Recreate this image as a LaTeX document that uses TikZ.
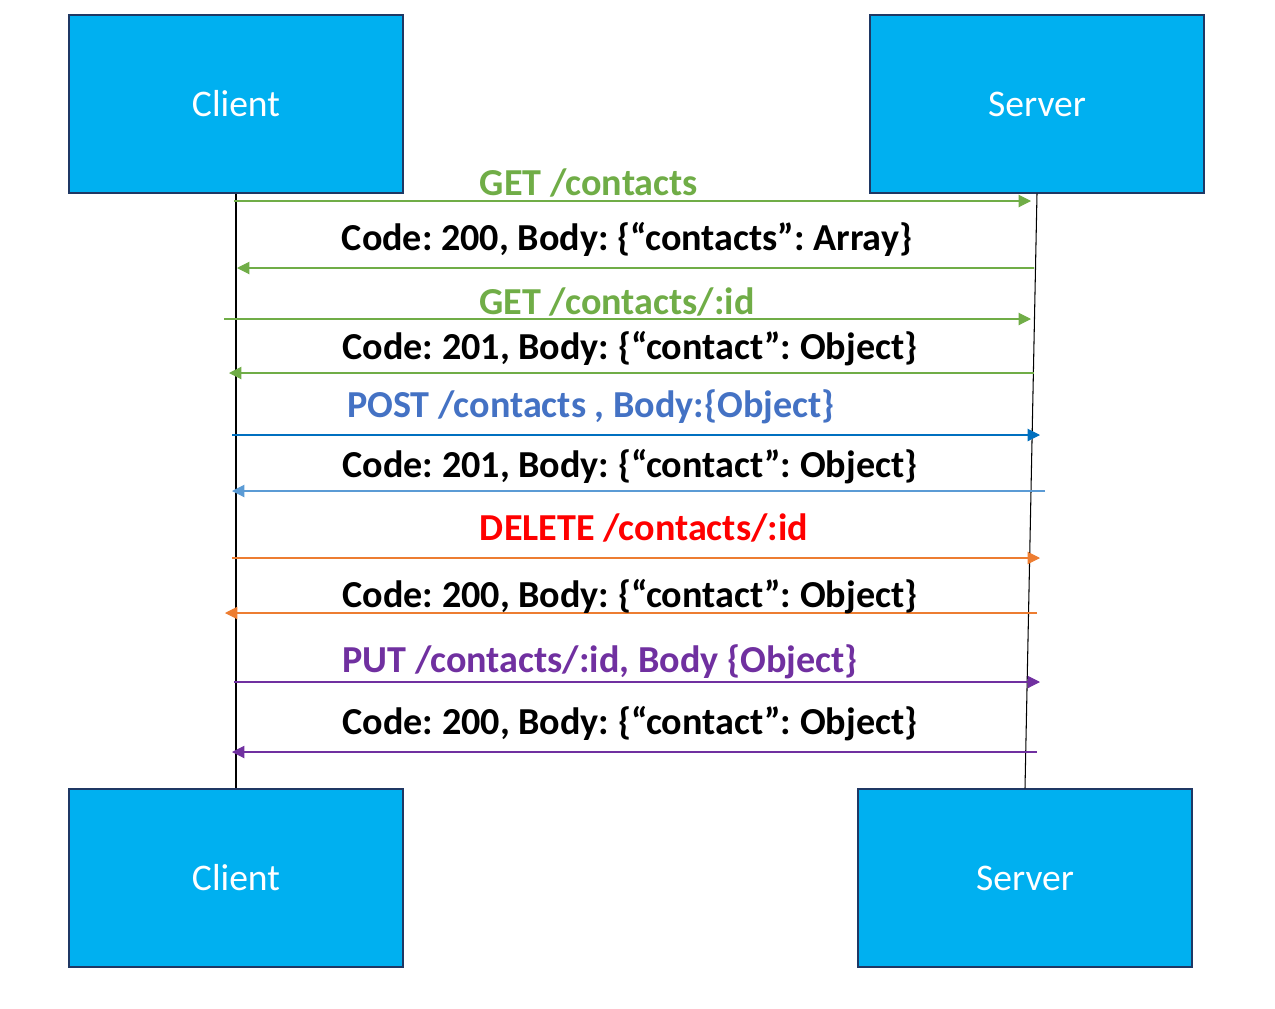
\documentclass[tikz,border=0pt]{standalone}
\usepackage{fontspec}
\setmainfont{Carlito}
\usepackage{xcolor}
\usetikzlibrary{positioning,calc,arrows.meta}

\definecolor{boxfill}{HTML}{00B0F0}
\definecolor{boxline}{HTML}{1F3864}
\definecolor{getgreen}{HTML}{70AD47}
\definecolor{postblue}{HTML}{4472C4}
\definecolor{postline}{HTML}{0070C0}
\definecolor{replyblue}{HTML}{5B9BD5}
\definecolor{delorange}{HTML}{ED7D31}
\definecolor{delred}{HTML}{FF0000}
\definecolor{putpurple}{HTML}{7030A0}

\tikzset{
  party/.style={draw=boxline, line width=1.1pt, fill=boxfill, minimum width=190.5pt, minimum height=100.9pt,
    inner sep=0pt, text=white, font=\fontsize{21.4}{25}\selectfont},
  msg/.style={line width=0.6pt, -{Triangle[length=7pt,width=7pt]}},
  msglabel/.style={font=\fontsize{21.7}{26}\selectfont\bfseries, inner sep=0pt}
}

\begin{document}
\frenchspacing
\begin{tikzpicture}[x=0.02cm, y=-0.02cm]
    \useasboundingbox (0,0) rectangle (1275,1008);

    % Parties
    \node [party] (clienttop) at (236,104) {Client};
    \node [party] (servertop) at (1037,104) {Server};
    \node [party] (clientbot) at (236,878) {Client};
    \node [party] (serverbot) at (1025,878) {Server};

    % Lifelines
    \draw [line width=0.6pt] (clienttop.south) -- (clientbot.north);
    \draw [line width=0.6pt] (servertop.south) -- (serverbot.north);

    % GET /contacts
    \coordinate (get1a) at (234,201);
    \coordinate (get1b) at (1031,201);
    \draw [msg, getgreen] (get1a) -- (get1b);
    \node [msglabel, getgreen] (get1) at (589,183) {GET /contacts};

    \coordinate (res1a) at (1034,268);
    \coordinate (res1b) at (237,268);
    \draw [msg, getgreen] (res1a) -- (res1b);
    \node [msglabel] (res1) at (627,239) {Code: 200, Body: \{“contacts”: Array\}};

    % GET /contacts/:id
    \coordinate (get2a) at (224,319);
    \coordinate (get2b) at (1031,319);
    \draw [msg, getgreen] (get2a) -- (get2b);
    \node [msglabel, getgreen] (get2) at (617,302) {GET /contacts/:id};

    \coordinate (res2a) at (1034,373);
    \coordinate (res2b) at (229,373);
    \draw [msg, getgreen] (res2a) -- (res2b);
    \node [msglabel] (res2) at (630,349) {Code: 201, Body: \{“contact”: Object\}};

    % POST
    \coordinate (posta) at (232,435);
    \coordinate (postb) at (1040,435);
    \draw [msg, postline] (posta) -- (postb);
    \node [msglabel, postblue] (post) at (591,407) {POST /contacts , Body:\{Object\}};

    \coordinate (res3a) at (1045,491);
    \coordinate (res3b) at (232,491);
    \draw [msg, replyblue] (res3a) -- (res3b);
    \node [msglabel] (res3) at (630,467) {Code: 201, Body: \{“contact”: Object\}};

    % DELETE
    \coordinate (dela) at (232,558);
    \coordinate (delb) at (1040,558);
    \draw [msg, delorange] (dela) -- (delb);
    \node [msglabel, delred] (del) at (644,528) {DELETE /contacts/:id};

    \coordinate (res4a) at (1037,613);
    \coordinate (res4b) at (225,613);
    \draw [msg, delorange] (res4a) -- (res4b);
    \node [msglabel] (res4) at (630,597) {Code: 200, Body: \{“contact”: Object\}};

    % PUT
    \coordinate (puta) at (234,682);
    \coordinate (putb) at (1040,682);
    \draw [msg, putpurple] (puta) -- (putb);
    \node [msglabel, putpurple] (put) at (600,662) {PUT /contacts/:id, Body \{Object\}};

    \coordinate (res5a) at (1037,752);
    \coordinate (res5b) at (232,752);
    \draw [msg, putpurple] (res5a) -- (res5b);
    \node [msglabel] (res5) at (630,724) {Code: 200, Body: \{“contact”: Object\}};
\end{tikzpicture}
\end{document}
